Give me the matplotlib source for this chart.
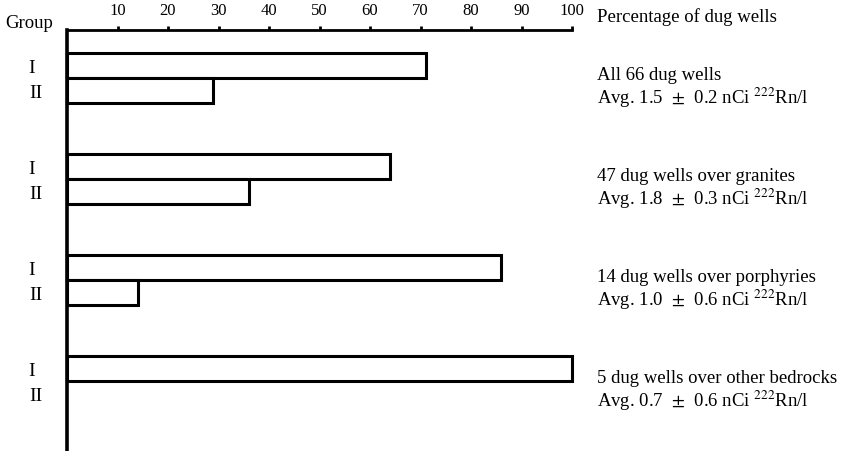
import matplotlib.pyplot as plt
import numpy as np

# percentage of dug wells in group I / group II
group_i = [71, 64, 86, 100]
group_ii = [29, 36, 14, 0]
titles = ["All 66 dug wells",
          "47 dug wells over granites",
          "14 dug wells over porphyries",
          "5 dug wells over other bedrocks"]
avgs = ["1.5", "1.8", "1.0", "0.7"]
errs = ["0.2", "0.3", "0.6", "0.6"]
ticks = [10, 20, 30, 40, 50, 60, 70, 80, 90, 100]

plt.rcParams['font.family'] = ['Liberation Serif', 'DejaVu Serif']

fig = plt.figure(figsize=(8.5, 4.51), dpi=100)
W, H = 850, 451
ax = fig.add_axes([67 / W, 0, (572 - 67) / W, (451 - 30) / H])

h = 0.245
y0 = 0.475
for g in range(4):
    yc = y0 + g
    ax.barh(yc - h / 2, group_i[g], height=h, left=0, color='white',
            edgecolor='black', linewidth=2.2, clip_on=False)
    if group_ii[g] > 0:
        ax.barh(yc + h / 2, group_ii[g], height=h, left=0, color='white',
                edgecolor='black', linewidth=2.2, clip_on=False)
    ax.text(-7.0, yc - h / 2 + 0.03, "I", ha='center', va='center',
            fontsize=14, clip_on=False)
    ax.text(-6.2, yc + h / 2 + 0.03, "II", ha='center', va='center',
            fontsize=14, clip_on=False)
    ax.text(105, yc - 0.02, titles[g], ha='left', va='center',
            fontsize=13.5, clip_on=False)
    ax.text(105, yc + 0.2,
            "Avg. %s  $\\pm$  %s nCi $^{222}$Rn/l" % (avgs[g], errs[g]),
            ha='left', va='center', fontsize=13.5, math_fontfamily='stix',
            clip_on=False)

ax.set_xlim(0, 100)
ax.set_ylim(421 / 101, 0)
ax.xaxis.tick_top()
ax.set_xticks(ticks)
ax.set_xticklabels([str(t) for t in ticks], fontsize=12)
ax.tick_params(axis='x', direction='out', length=3, width=2, pad=5)
ax.set_yticks([])
for s in ['right', 'bottom']:
    ax.spines[s].set_visible(False)
ax.spines['top'].set_linewidth(2)
ax.spines['left'].set_linewidth(2.6)

ax.text(-2.8, -0.06, "Group", ha='right', va='center', fontsize=13.5)
ax.text(105, -0.13, "Percentage of dug wells", ha='left', va='center',
        fontsize=13.5)

fig.savefig("out.png", dpi=100)
